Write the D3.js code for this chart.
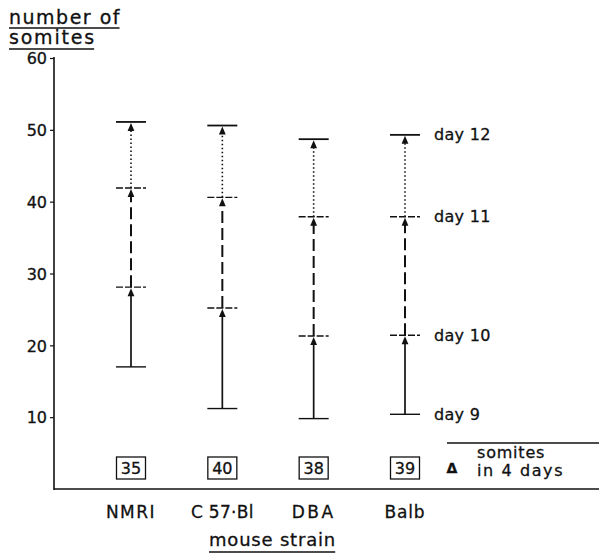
<!DOCTYPE html>
<html>
<head>
<meta charset="utf-8">
<script src="https://cdn.jsdelivr.net/npm/d3@7"></script>
<style>
  body { margin: 0; background: #fff; }
  text { font-family: "DejaVu Sans", sans-serif; fill: #111; stroke: #111; stroke-width: 0.3px; }
</style>
</head>
<body>
<svg id="chart" width="599" height="559"></svg>
<script>
// data
const strains = ["NMRI", "C 57·Bl", "DBA", "Balb"];
const day9 = [17.0, 11.2, 9.8, 10.4];
const day10 = [28.1, 25.2, 21.3, 21.4];
const day11 = [41.9, 40.6, 37.9, 37.9];
const day12 = [51.1, 50.6, 48.7, 49.3];
const deltaSomites = [35, 40, 38, 39];
const yTicks = [10, 20, 30, 40, 50, 60];
const dayLabels = ["day 9", "day 10", "day 11", "day 12"];

const svg = d3.select("#chart");
const ink = "#111";

const axisX = 54;
const y = d3.scaleLinear().domain([0, 60]).range([489, 58]);
const x = d3.scalePoint().domain(strains).range([131, 405]);

// y axis
const gy = svg.append("g").attr("transform", `translate(${axisX},0)`)
  .call(d3.axisLeft(y).tickValues(yTicks).tickSize(4).tickPadding(3).tickFormat(d3.format("d")));
gy.select(".domain").remove();
gy.selectAll(".tick line").attr("stroke", ink).attr("stroke-width", 1.2);
gy.selectAll(".tick text").style("font-size", "16px").attr("fill", ink).attr("dy", "0.36em");
svg.append("line").attr("x1", axisX).attr("x2", axisX)
  .attr("y1", y(60) - 1).attr("y2", y(0) + 1)
  .attr("stroke", ink).attr("stroke-width", 1.6);
// baseline
svg.append("line").attr("x1", axisX).attr("x2", 599)
  .attr("y1", y(0)).attr("y2", y(0))
  .attr("stroke", ink).attr("stroke-width", 1.4);

// underlined text helper
function underlined(txt, tx, ty, size, spacing, uy) {
  const t = svg.append("text").attr("x", tx).attr("y", ty)
    .style("font-size", size + "px").style("letter-spacing", spacing + "px").text(txt);
  const len = t.node().getComputedTextLength() - spacing;
  svg.append("line").attr("x1", tx).attr("x2", tx + len)
    .attr("y1", ty + uy).attr("y2", ty + uy)
    .attr("stroke", ink).attr("stroke-width", 1.3);
}
underlined("number of", 9, 24, 19, 1.5, 4);
underlined("somites", 9, 44, 19, 1.8, 5);

// segments between days
const segs = [
  { from: day9, to: day10, dash: null, w: 1.7 },
  { from: day10, to: day11, dash: "12,5", w: 2 },
  { from: day11, to: day12, dash: "1.6,2.4", w: 1.6 }
];
const arrowH = 8, arrowW = 3.4;
segs.forEach(s => {
  strains.forEach((st, i) => {
    const cx = x(st);
    svg.append("line").attr("x1", cx).attr("x2", cx)
      .attr("y1", y(s.from[i])).attr("y2", y(s.to[i]) + arrowH - 1)
      .attr("stroke", ink).attr("stroke-width", s.w)
      .attr("stroke-dasharray", s.dash);
    const ty = y(s.to[i]) + 1;
    svg.append("path")
      .attr("d", `M${cx},${ty} L${cx - arrowW},${ty + arrowH} L${cx + arrowW},${ty + arrowH} Z`)
      .attr("fill", ink);
  });
});

// day ticks
const days = [day9, day10, day11, day12];
days.forEach((d, k) => {
  strains.forEach((st, i) => {
    const cx = x(st);
    svg.append("line").attr("x1", cx - 15).attr("x2", cx + 15)
      .attr("y1", y(d[i])).attr("y2", y(d[i]))
      .attr("stroke", ink)
      .attr("stroke-width", k === 3 ? 1.8 : 1.4)
      .attr("stroke-dasharray", (k === 1 || k === 2) ? "7,2" : null);
  });
  // day labels next to the last strain
  svg.append("text").attr("x", 434).attr("y", y(d[strains.length - 1]))
    .attr("dy", "0.35em").style("font-size", "16px").style("letter-spacing", "0.3px")
    .text(dayLabels[k]);
});

// delta boxes
const boxW = 29, boxH = 22, boxY = 457;
strains.forEach((st, i) => {
  const cx = x(st);
  svg.append("rect").attr("x", cx - boxW / 2).attr("y", boxY)
    .attr("width", boxW).attr("height", boxH)
    .attr("fill", "none").attr("stroke", ink).attr("stroke-width", 1.3);
  svg.append("text").attr("x", cx).attr("y", boxY + boxH / 2)
    .attr("dy", "0.36em").attr("text-anchor", "middle")
    .style("font-size", "16px").text(deltaSomites[i]);
});

// legend for delta
svg.append("line").attr("x1", 447).attr("x2", 599).attr("y1", 443).attr("y2", 443)
  .attr("stroke", ink).attr("stroke-width", 1.4);
svg.append("text").attr("x", 452).attr("y", 473).attr("text-anchor", "middle")
  .style("font-size", "14px").style("font-weight", "bold").text("Δ");
svg.append("text").attr("x", 477).attr("y", 458)
  .style("font-size", "16px").style("letter-spacing", "0.8px").text("somites");
svg.append("text").attr("x", 477).attr("y", 476)
  .style("font-size", "16px").style("letter-spacing", "1.6px").text("in 4 days");

// strain labels
const labelSpacing = [1.5, 0.3, 2.5, 0.8];
strains.forEach((st, i) => {
  svg.append("text").attr("x", x(st)).attr("y", 518)
    .attr("text-anchor", "middle")
    .style("font-size", "17px").style("letter-spacing", labelSpacing[i] + "px").text(st);
});

underlined("mouse strain", 209, 546, 18, 0.8, 6);
</script>
</body>
</html>
